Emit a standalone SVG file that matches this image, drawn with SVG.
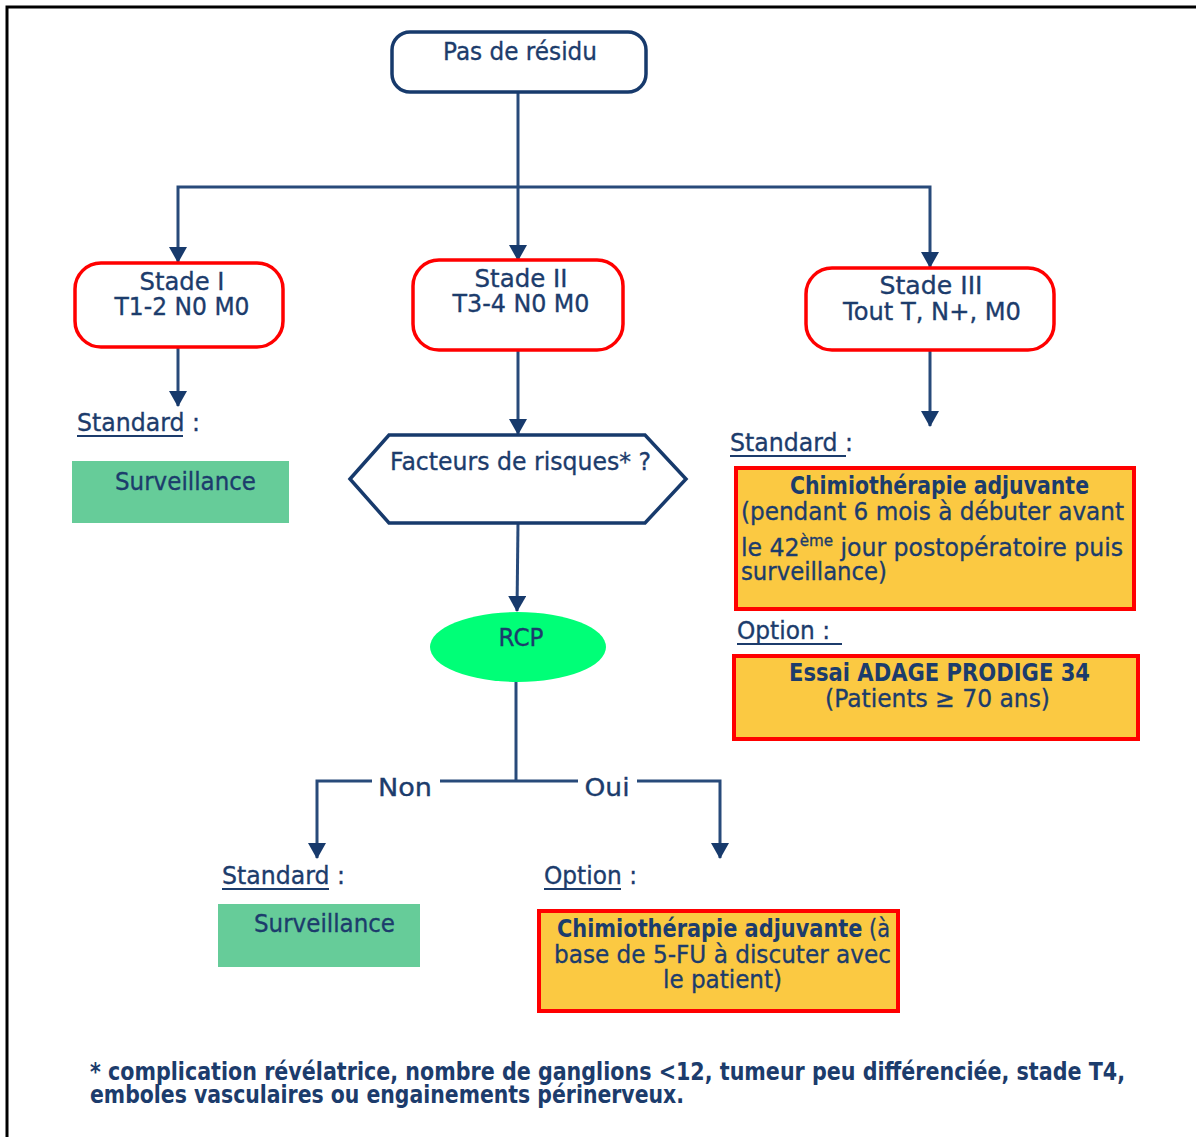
<svg xmlns="http://www.w3.org/2000/svg" width="1196" height="1137" viewBox="0 0 1196 1137">
<defs>
<marker id="arr" markerUnits="userSpaceOnUse" markerWidth="16" markerHeight="18" refX="15" refY="9" orient="auto-start-reverse" viewBox="0 0 16 18">
<path d="M0,0 L16,9 L0,18 Z" fill="#173a6c"/>
</marker>
<style>
text{font-family:"DejaVu Sans",Verdana,sans-serif;fill:#1c3c6c;font-size:25px;stroke:#1c3c6c;stroke-width:0.35}
.b{font-weight:bold;stroke-width:0}
.c{text-anchor:middle}
.wire{fill:none;stroke:#284a7a;stroke-width:3}
.rr{fill:#fff;stroke:#ff0000;stroke-width:3.5}
.or{fill:#fbc942;stroke:#ff0000;stroke-width:4}
.gr{fill:#66cc99}
.ul{stroke:#1c3c6c;stroke-width:2}
</style>
</defs>
<rect width="1196" height="1137" fill="#fff"/>
<path d="M7,1137 V7 H1196" fill="none" stroke="#000" stroke-width="3"/>

<g id="connectors">
<path class="wire" d="M518,92 V260" marker-end="url(#arr)"/>
<path class="wire" d="M178,262 V187 H930 V267" marker-start="url(#arr)" marker-end="url(#arr)"/>
<path class="wire" d="M178,347 V406" marker-end="url(#arr)"/>
<path class="wire" d="M518,350 V434" marker-end="url(#arr)"/>
<path class="wire" d="M930,350 V426" marker-end="url(#arr)"/>
<path class="wire" d="M518,523 L517,611" marker-end="url(#arr)"/>
<path class="wire" d="M516,682 V781"/>
<path class="wire" d="M372,781 H317 V858" marker-end="url(#arr)"/>
<path class="wire" d="M440,781 H578"/>
<path class="wire" d="M637,781 H720 V858" marker-end="url(#arr)"/>
<text class="c" x="405" y="796" textLength="54" lengthAdjust="spacingAndGlyphs">Non</text>
<text class="c" x="607" y="796" textLength="45" lengthAdjust="spacingAndGlyphs">Oui</text>
</g>

<g id="pas-de-residu">
<rect x="392" y="32" width="254" height="60" rx="18" fill="#fff" stroke="#173a6c" stroke-width="3.5"/>
<text class="c" x="520" y="60" textLength="154" lengthAdjust="spacingAndGlyphs">Pas de résidu</text>
</g>

<g id="stade-1">
<rect class="rr" x="75" y="263" width="208" height="84" rx="26"/>
<text class="c" x="182" y="290" textLength="85" lengthAdjust="spacingAndGlyphs">Stade I</text>
<text class="c" x="182" y="315" textLength="135" lengthAdjust="spacingAndGlyphs">T1-2 N0 M0</text>
</g>

<g id="stade-2">
<rect class="rr" x="413" y="260" width="210" height="90" rx="26"/>
<text class="c" x="521" y="287" textLength="93" lengthAdjust="spacingAndGlyphs">Stade II</text>
<text class="c" x="521" y="312" textLength="137" lengthAdjust="spacingAndGlyphs">T3-4 N0 M0</text>
</g>

<g id="stade-3">
<rect class="rr" x="806" y="268" width="248" height="82" rx="26"/>
<text class="c" x="931" y="294" textLength="103" lengthAdjust="spacingAndGlyphs">Stade III</text>
<text class="c" x="932" y="320" textLength="178" lengthAdjust="spacingAndGlyphs">Tout T, N+, M0</text>
</g>

<g id="standard-1">
<text x="77" y="431" textLength="123" lengthAdjust="spacingAndGlyphs">Standard :</text>
<line class="ul" x1="77" y1="436" x2="183" y2="436"/>
</g>

<g id="surveillance-1">
<rect class="gr" x="72" y="461" width="217" height="62"/>
<text x="115" y="490" textLength="141" lengthAdjust="spacingAndGlyphs">Surveillance</text>
</g>

<g id="facteurs">
<polygon points="350,479 389,435 645,435 686,479 645,523 389,523" fill="#fff" stroke="#173a6c" stroke-width="3.5"/>
<text x="390" y="470" textLength="261" lengthAdjust="spacingAndGlyphs">Facteurs de risques* ?</text>
</g>

<g id="rcp">
<ellipse cx="518" cy="647" rx="88" ry="35" fill="#00ff77"/>
<text class="c" x="521" y="646" textLength="45" lengthAdjust="spacingAndGlyphs">RCP</text>
</g>

<g id="standard-2">
<text x="222" y="884" textLength="123" lengthAdjust="spacingAndGlyphs">Standard :</text>
<line class="ul" x1="222" y1="889" x2="329" y2="889"/>
</g>

<g id="surveillance-2">
<rect class="gr" x="218" y="904" width="202" height="63"/>
<text x="254" y="932" textLength="141" lengthAdjust="spacingAndGlyphs">Surveillance</text>
</g>

<g id="option-2">
<text x="544" y="884" textLength="93" lengthAdjust="spacingAndGlyphs">Option :</text>
<line class="ul" x1="544" y1="889" x2="621" y2="889"/>
</g>

<g id="chimio-2">
<rect class="or" x="539" y="911" width="359" height="100"/>
<text x="557" y="937" textLength="333" lengthAdjust="spacingAndGlyphs"><tspan class="b">Chimiothérapie adjuvante</tspan> (à</text>
<text x="554" y="963" textLength="337" lengthAdjust="spacingAndGlyphs">base de 5-FU à discuter avec</text>
<text x="663" y="988" textLength="119" lengthAdjust="spacingAndGlyphs">le patient)</text>
</g>

<g id="standard-3">
<text x="730" y="451" textLength="123" lengthAdjust="spacingAndGlyphs">Standard :</text>
<line class="ul" x1="730" y1="456" x2="846" y2="456"/>
</g>

<g id="chimio-3">
<rect class="or" x="736" y="468" width="398" height="141"/>
<text class="b" x="790" y="494" textLength="299" lengthAdjust="spacingAndGlyphs">Chimiothérapie adjuvante</text>
<text x="741" y="520" textLength="383" lengthAdjust="spacingAndGlyphs">(pendant 6 mois à débuter avant</text>
<text x="741" y="556" textLength="382" lengthAdjust="spacingAndGlyphs">le 42<tspan font-size="16" dy="-10">ème</tspan><tspan dy="10"> jour postopératoire puis</tspan></text>
<text x="741" y="580" textLength="146" lengthAdjust="spacingAndGlyphs">surveillance)</text>
</g>

<g id="option-3">
<text x="737" y="639" textLength="93" lengthAdjust="spacingAndGlyphs">Option :</text>
<line class="ul" x1="737" y1="644" x2="842" y2="644"/>
</g>

<g id="essai">
<rect class="or" x="734" y="656" width="404" height="83"/>
<text class="b" x="789" y="681" textLength="301" lengthAdjust="spacingAndGlyphs">Essai ADAGE PRODIGE 34</text>
<text x="825" y="707" textLength="225" lengthAdjust="spacingAndGlyphs">(Patients ≥ 70 ans)</text>
</g>

<g id="footnote">
<text class="b" x="90" y="1080" font-size="23" textLength="1035" lengthAdjust="spacingAndGlyphs">* complication révélatrice, nombre de ganglions &lt;12, tumeur peu différenciée, stade T4,</text>
<text class="b" x="90" y="1103" font-size="23" textLength="594" lengthAdjust="spacingAndGlyphs">emboles vasculaires ou engainements périnerveux.</text>
</g>
</svg>
